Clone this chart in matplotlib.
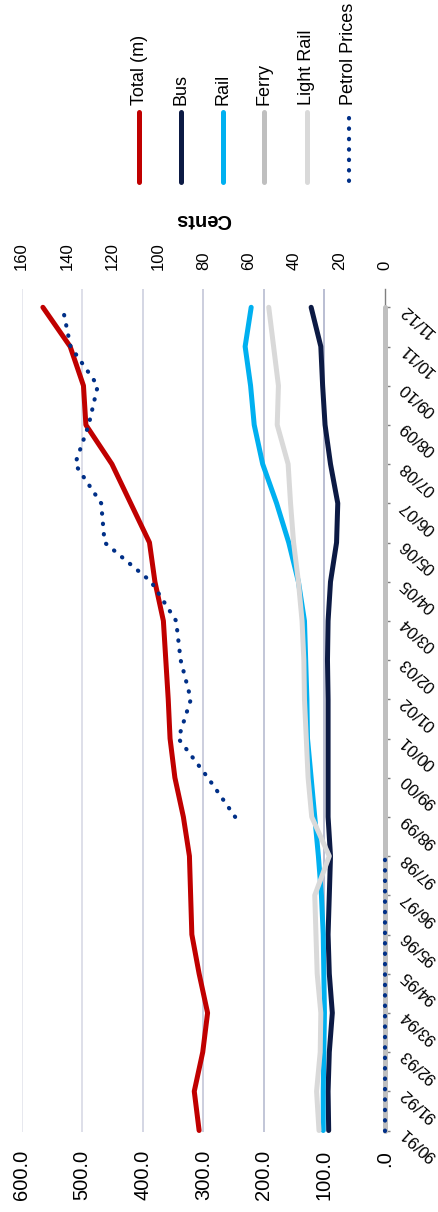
import numpy as np
import matplotlib
matplotlib.use("Agg")
import matplotlib.pyplot as plt
from matplotlib.lines import Line2D
from matplotlib.colors import to_rgb

plt.rcParams['font.family'] = ['Liberation Sans', 'DejaVu Sans']

# ---- data -------------------------------------------------------------
years = ['90/91', '91/92', '92/93', '93/94', '94/95', '95/96', '96/97', '97/98',
         '98/99', '99/00', '00/01', '01/02', '02/03', '03/04', '04/05', '05/06',
         '06/07', '07/08', '08/09', '09/10', '10/11', '11/12']

total_m = [307, 315, 301, 293, 307, 319, 321, 323, 333, 347, 355, 358,
           362, 366, 380, 389, 420, 451, 494, 498, 520, 565]
bus = [93, 94, 92, 87, 92, 94, 92, 90, 94, 94, 94, 94,
       95, 94, 90, 80, 78, 90, 99, 103, 106, 122]
rail = [102, 102, 101, 100, 101, 102, 105, 110, 116, 122, 128, 129,
        131, 133, 143, 159, 179, 202, 216, 222, 231, 221]
ferry = [0, 0, 0, 0, 0, 0, 0, 0, 0, 0, 0, 0,
         0, 0, 0, 0, 0, 0, 0, 0, 0, 0]
light_rail = [109, 113, 107, 106, 112, 114, 116, 92, 121, 127, 130, 133,
              134, 137, 143, 151, 156, 160, 178, 176, 184, 192]
# petrol prices (cents); no figures before 98/99
petrol_cents = [np.nan, np.nan, np.nan, np.nan, np.nan, np.nan, np.nan, np.nan,
                66, 78, 91, 85.5, 90, 92, 103, 123.5, 125, 136.5, 130.5, 126.5,
                138.5, 142]

series_names = ['Total (m)', 'Bus', 'Rail', 'Ferry', 'Light Rail', 'Petrol Prices']
series_colors = ['#c00000', '#0c1a44', '#00b0f0', '#bfbfbf', '#d9d9d9', '#002f87']

# ---- figure (portrait, chart turned a quarter turn) --------------------
W, H = 439, 1212
fig = plt.figure(figsize=(W / 100, H / 100), dpi=100)

left_px, right_px, top_px, bottom_px = 21.7, 385.0, 289.0, 1131.7
ax = fig.add_axes([left_px / W, (H - bottom_px) / H,
                   (right_px - left_px) / W, (bottom_px - top_px) / H])

pitch = 39.2
y_low = -1.2 / pitch
y_high = y_low + (bottom_px - top_px) / pitch
ax.set_xlim(600, 0)
ax.set_ylim(y_low, y_high)

idx = np.arange(len(years))

# value gridlines, fading toward the high end
g_lo, g_hi = np.array(to_rgb('#a7acc6')), np.array(to_rgb('#e0e1ea'))
for k, v in enumerate(range(100, 601, 100)):
    t = k / 5
    ax.axvline(v, color=tuple(g_lo * (1 - t) + g_hi * t), lw=1.1, zorder=0)

for s in ['top', 'left', 'bottom']:
    ax.spines[s].set_visible(False)
ax.spines['right'].set_color('#7f7f7f')
ax.spines['right'].set_linewidth(1.0)

line_kw = dict(lw=3.6, solid_capstyle='round', solid_joinstyle='round', clip_on=False)
ax.plot(total_m, idx, color=series_colors[0], zorder=3, **line_kw)
ax.plot(bus, idx, color=series_colors[1], zorder=4, **line_kw)
ax.plot(rail, idx, color=series_colors[2], zorder=5, **line_kw)
ax.plot(ferry, idx, color=series_colors[3], zorder=6, **line_kw)
ax.plot(light_rail, idx, color=series_colors[4], zorder=7, **line_kw)


def value_label(v, pos=None):
    s = f'{v:.1f}'
    return s[1:] if s.startswith('0') else s


ax.set_xticks(range(0, 601, 100))
ax.xaxis.set_major_formatter(plt.FuncFormatter(value_label))
ax.tick_params(axis='x', length=0, pad=13, labelsize=14.5, labelrotation=90)

ax.yaxis.tick_right()
ax.set_yticks(idx)
ax.set_yticklabels(years)
ax.tick_params(axis='y', direction='out', length=3.8, width=1.0, color='#7f7f7f',
               pad=9, labelsize=12)
for lbl in ax.get_yticklabels():
    lbl.set_rotation(138)
    lbl.set_ha('right')
    lbl.set_va('center')
    lbl.set_rotation_mode('anchor')

# secondary value axis: petrol prices
ax2 = ax.twiny()
ax2.set_xlim(160, 0)
for s in ax2.spines.values():
    s.set_visible(False)
ax2.set_xticks(range(0, 161, 20))
ax2.tick_params(axis='x', length=0, pad=13.5, labelsize=12, labelrotation=90)
ax2.set_xlabel('Cents', rotation=180, fontweight='bold', fontsize=14.5)
ax2.xaxis.set_label_coords(0.5, 1 + (top_px - 220) / (bottom_px - top_px))
ax2.xaxis.label.set_va('center')

dot_kw = dict(lw=3.0, linestyle=(0, (0.1, 2.4)), dash_capstyle='round', clip_on=False)
petrol = np.array(petrol_cents, dtype=float)
missing = np.isnan(petrol)
ax2.plot(np.zeros(missing.sum()), idx[missing], color=series_colors[5], zorder=8, **dot_kw)
ax2.plot(petrol[~missing], idx[~missing], color=series_colors[5], zorder=8, **dot_kw)

# legend, laid out along the top edge
leg_x = [139.3, 180.7, 223.3, 264.3, 306.7, 349.0]
for name, color, xp in zip(series_names, series_colors, leg_x):
    fx = xp / W
    if name == 'Petrol Prices':
        kw = dict(dot_kw)
        kw.pop('clip_on')
        ln = Line2D([fx, fx], [(H - 118) / H, (H - 181.7) / H],
                    transform=fig.transFigure, color=color, **kw)
    else:
        ln = Line2D([fx, fx], [(H - 111.7) / H, (H - 181.7) / H],
                    transform=fig.transFigure, color=color, lw=3.6,
                    solid_capstyle='round')
    fig.add_artist(ln)
    fig.text(fx, (H - 105) / H, name, rotation=90, ha='center', va='bottom',
             fontsize=13, color='black')

fig.savefig('out.png', dpi=100)
